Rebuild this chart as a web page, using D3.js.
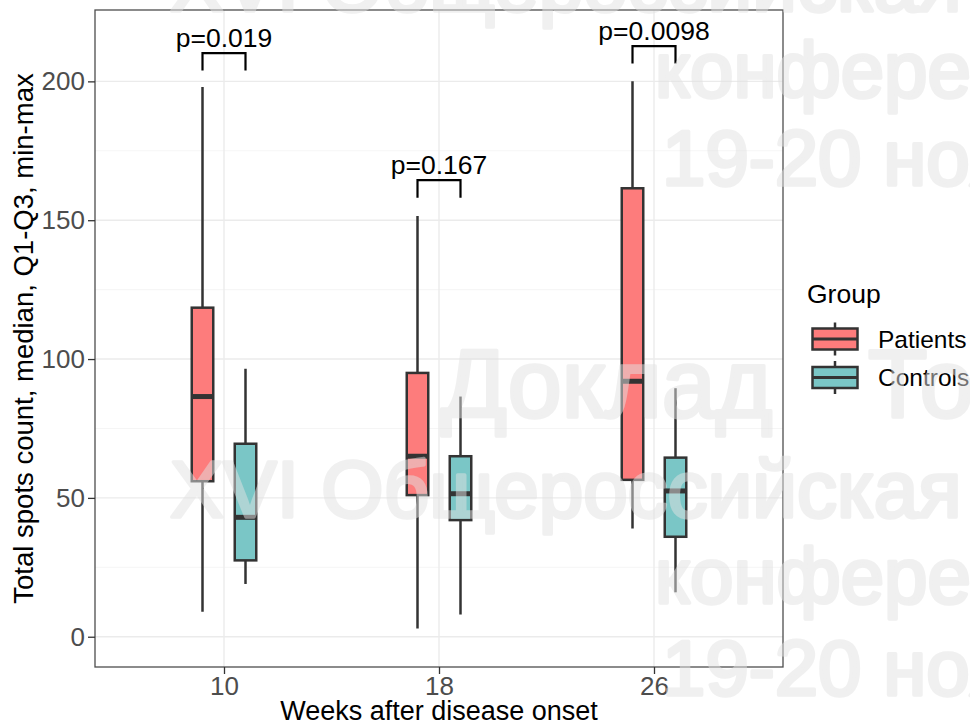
<!DOCTYPE html>
<html>
<head>
<meta charset="utf-8">
<style>
  body { margin: 0; background: #fff; }
  svg text { font-family: "Liberation Sans", Arial, sans-serif; }
</style>
<script src="https://cdn.jsdelivr.net/npm/d3@7"></script>
</head>
<body>
<svg id="chart" width="970" height="725"></svg>
<script>
// data
const weeks = ["10", "18", "26"];
const groups = ["Patients", "Controls"];
const groupColors = ["#FD7C7C", "#7AC6C6"];

const patientsMin    = [9, 3, 39];
const patientsQ1     = [56, 51, 56.5];
const patientsMedian = [86.5, 65, 92];
const patientsQ3     = [118.5, 95, 161.5];
const patientsMax    = [198, 151.5, 200];

const controlsMin    = [19, 8, 16];
const controlsQ1     = [27.5, 42, 36];
const controlsMedian = [43, 51.5, 52.5];
const controlsQ3     = [69.5, 65, 64.5];
const controlsMax    = [96.5, 86.5, 89.5];

const pLabels  = ["p=0.019", "p=0.167", "p=0.0098"];
const bracketY = [210.2, 164.4, 212.7];
const tipLength = 6.3;

const yTicks = [0, 50, 100, 150, 200];
const yMinor = [25, 75, 125, 175];

// build box table
const boxes = [];
weeks.forEach((w, i) => {
  boxes.push({week: w, group: "Patients", min: patientsMin[i], q1: patientsQ1[i], med: patientsMedian[i], q3: patientsQ3[i], max: patientsMax[i]});
  boxes.push({week: w, group: "Controls", min: controlsMin[i], q1: controlsQ1[i], med: controlsMedian[i], q3: controlsQ3[i], max: controlsMax[i]});
});

const svg = d3.select("#chart");
const pLeft = 95, pRight = 783, pTop = 10, pBottom = 667;

const x = d3.scalePoint().domain(weeks).range([pLeft, pRight]).padding(0.6);
const y = d3.scaleLinear().domain([-10.9, 225.7]).range([pBottom, pTop]);
const color = d3.scaleOrdinal().domain(groups).range(groupColors);
const step = x.step();
const dodge = d3.scaleOrdinal().domain(groups).range([-0.1 * step, 0.1 * step]);
const boxW = 0.1 * step;

// panel background + grid
svg.append("rect").attr("x", pLeft).attr("y", pTop).attr("width", pRight - pLeft).attr("height", pBottom - pTop).attr("fill", "#fff");

svg.append("g").selectAll("line").data(yMinor).join("line")
  .attr("x1", pLeft).attr("x2", pRight)
  .attr("y1", d => y(d)).attr("y2", d => y(d))
  .attr("stroke", "#F2F2F2").attr("stroke-width", 0.8);

svg.append("g").selectAll("line").data(yTicks).join("line")
  .attr("x1", pLeft).attr("x2", pRight)
  .attr("y1", d => y(d)).attr("y2", d => y(d))
  .attr("stroke", "#EBEBEB").attr("stroke-width", 1.4);

svg.append("g").selectAll("line").data(weeks).join("line")
  .attr("x1", d => x(d)).attr("x2", d => x(d))
  .attr("y1", pTop).attr("y2", pBottom)
  .attr("stroke", "#EBEBEB").attr("stroke-width", 1.4);

// boxplots
const bx = d => x(d.week) + dodge(d.group);
const g = svg.append("g");
g.selectAll("line.whisker").data(boxes).join("line")
  .attr("class", "whisker")
  .attr("x1", bx).attr("x2", bx)
  .attr("y1", d => y(d.min)).attr("y2", d => y(d.max))
  .attr("stroke", "#333").attr("stroke-width", 2.5);

g.selectAll("rect.box").data(boxes).join("rect")
  .attr("class", "box")
  .attr("x", d => bx(d) - boxW / 2)
  .attr("width", boxW)
  .attr("y", d => y(d.q3))
  .attr("height", d => y(d.q1) - y(d.q3))
  .attr("fill", d => color(d.group))
  .attr("stroke", "#333").attr("stroke-width", 2.5);

g.selectAll("line.median").data(boxes).join("line")
  .attr("class", "median")
  .attr("x1", d => bx(d) - boxW / 2).attr("x2", d => bx(d) + boxW / 2)
  .attr("y1", d => y(d.med)).attr("y2", d => y(d.med))
  .attr("stroke", "#333").attr("stroke-width", 5);

// significance brackets
const br = svg.append("g");
weeks.forEach((w, i) => {
  const x1 = x(w) + dodge("Patients"), x2 = x(w) + dodge("Controls");
  const yb = y(bracketY[i]), yt = y(bracketY[i] - tipLength);
  br.append("path")
    .attr("d", `M${x1},${yt}V${yb}H${x2}V${yt}`)
    .attr("fill", "none").attr("stroke", "#000").attr("stroke-width", 2.2);
  br.append("text")
    .attr("x", (x1 + x2) / 2).attr("y", yb - 6)
    .attr("text-anchor", "middle")
    .attr("font-size", 26.5).attr("fill", "#000")
    .text(pLabels[i]);
});

// panel border
svg.append("rect").attr("x", pLeft).attr("y", pTop).attr("width", pRight - pLeft).attr("height", pBottom - pTop)
  .attr("fill", "none").attr("stroke", "#4D4D4D").attr("stroke-width", 1.3);

// axes
const yAxis = svg.append("g").attr("transform", `translate(${pLeft},0)`)
  .call(d3.axisLeft(y).tickValues(yTicks).tickSize(7).tickPadding(3));
const xAxis = svg.append("g").attr("transform", `translate(0,${pBottom})`)
  .call(d3.axisBottom(x).tickSize(7).tickPadding(3));
[yAxis, xAxis].forEach(a => {
  a.select(".domain").remove();
  a.selectAll(".tick line").attr("stroke", "#333").attr("stroke-width", 1.3);
  a.selectAll(".tick text").attr("fill", "#4D4D4D").attr("font-size", 26)
    .attr("font-family", "Liberation Sans, Arial, sans-serif");
});

// axis titles
svg.append("text")
  .attr("x", (pLeft + pRight) / 2).attr("y", 720)
  .attr("text-anchor", "middle").attr("font-size", 27).attr("fill", "#000")
  .text("Weeks after disease onset");
svg.append("text")
  .attr("transform", `translate(33,${(pTop + pBottom) / 2}) rotate(-90)`)
  .attr("text-anchor", "middle").attr("font-size", 27.5).attr("fill", "#000")
  .text("Total spots count, median, Q1-Q3, min-max");

// legend
const leg = svg.append("g");
leg.append("text").attr("x", 807).attr("y", 303)
  .attr("font-size", 26.5).attr("fill", "#000").text("Group");
groups.forEach((grp, i) => {
  const cy = 339 + i * 38.5;
  leg.append("line").attr("x1", 835).attr("x2", 835).attr("y1", cy - 16.5).attr("y2", cy + 16.5)
    .attr("stroke", "#333").attr("stroke-width", 2.5);
  leg.append("rect").attr("x", 812.5).attr("y", cy - 10.5).attr("width", 45).attr("height", 21)
    .attr("fill", color(grp)).attr("stroke", "#333").attr("stroke-width", 2.5);
  leg.append("line").attr("x1", 812.5).attr("x2", 857.5).attr("y1", cy).attr("y2", cy)
    .attr("stroke", "#333").attr("stroke-width", 3);
  leg.append("text").attr("x", 878).attr("y", cy + 8.5)
    .attr("font-size", 24.5).attr("fill", "#000").text(grp);
});

// faint watermark over the picture
const watermark = [
  {t: "XVI Общероссийская", x: 170, y: 11, s: 80},
  {t: "конференция", x: 655, y: 97, s: 78},
  {t: "19-20 ноября", x: 662, y: 185, s: 78},
  {t: "Доклад", x: 441, y: 417, s: 97},
  {t: "То", x: 868, y: 417, s: 97},
  {t: "XVI Общероссийская", x: 170, y: 517, s: 80},
  {t: "конференция", x: 655, y: 603, s: 78},
  {t: "19-20 ноября", x: 662, y: 695, s: 78}
];
svg.append("g").attr("opacity", 0.5).selectAll("text").data(watermark).join("text")
  .attr("x", d => d.x).attr("y", d => d.y)
  .attr("font-size", d => d.s)
  .attr("fill", "#E2E2E2").attr("stroke", "#E2E2E2").attr("stroke-width", 3.5)
  .attr("stroke-linejoin", "round")
  .text(d => d.t);
</script>
</body>
</html>
